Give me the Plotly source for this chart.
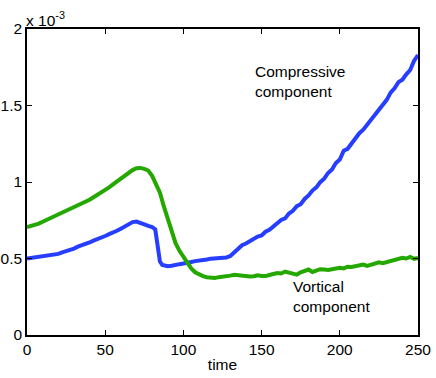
import plotly.graph_objects as go

# ---- data (values in units of 1e-3) ----
t_comp = [0, 2.5, 5, 7.5, 10, 12.5, 15, 17.5, 20, 22.5, 25, 27.5, 30, 32.5, 35, 37.5, 40, 42.5, 45, 47.5,
          50, 52.5, 55, 57.5, 60, 62.5, 65, 67.5, 70, 72.5, 75, 77.5, 80, 82, 83, 84, 85, 86.5, 88, 90,
          92.5, 95, 97.5, 100, 102.5, 105, 107.5, 110, 112.5, 115, 117.5, 120, 122.5, 125, 127.5, 130,
          132.5, 135, 137.5, 140, 142.5, 145, 147.5, 150, 152.5, 155, 157.5, 160, 162.5, 165, 167.5, 170,
          172.5, 175, 177.5, 180, 182.5, 185, 187.5, 190, 192.5, 195, 197.5, 200, 202.5, 205, 207.5, 210,
          212.5, 215, 217.5, 220, 222.5, 225, 227.5, 230, 232.5, 235, 237.5, 240, 242.5, 245, 247.5, 250]
compressive = [0.500, 0.504, 0.506, 0.511, 0.513, 0.517, 0.519, 0.525, 0.530, 0.540, 0.547, 0.558, 0.565,
               0.577, 0.585, 0.597, 0.605, 0.617, 0.625, 0.637, 0.647, 0.659, 0.667, 0.681, 0.695, 0.708,
               0.724, 0.738, 0.741, 0.735, 0.723, 0.713, 0.706, 0.690, 0.620, 0.540, 0.480, 0.458, 0.452,
               0.450, 0.453, 0.455, 0.463, 0.467, 0.475, 0.477, 0.483, 0.485, 0.491, 0.493, 0.499, 0.500,
               0.503, 0.502, 0.507, 0.516, 0.537, 0.558, 0.587, 0.598, 0.614, 0.626, 0.643, 0.650, 0.675,
               0.688, 0.708, 0.725, 0.752, 0.762, 0.794, 0.812, 0.842, 0.855, 0.889, 0.912, 0.944, 0.965,
               0.999, 1.022, 1.059, 1.082, 1.124, 1.147, 1.205, 1.217, 1.254, 1.282, 1.319, 1.342, 1.376,
               1.402, 1.444, 1.475, 1.509, 1.537, 1.584, 1.612, 1.653, 1.669, 1.704, 1.732, 1.792, 1.830]

t_vort = [0, 2.5, 5, 7.5, 10, 12.5, 15, 17.5, 20, 22.5, 25, 27.5, 30, 32.5, 35, 37.5, 40, 42.5, 45, 47.5,
          50, 52.5, 55, 57.5, 60, 62.5, 65, 67.5, 70, 72.5, 75, 77.5, 80, 82.5, 85, 87.5, 90, 92.5, 95,
          97.5, 100, 102.5, 105, 107.5, 110, 112.5, 115, 117.5, 120, 122.5, 125, 127.5, 130, 132.5, 135,
          137.5, 140, 142.5, 145, 147.5, 150, 152.5, 155, 157.5, 160, 162.5, 165, 167.5, 170, 172.5, 175,
          177.5, 180, 182.5, 185, 187.5, 190, 192.5, 195, 197.5, 200, 202.5, 205, 207.5, 210, 212.5, 215,
          217.5, 220, 222.5, 225, 227.5, 230, 232.5, 235, 237.5, 240, 242.5, 245, 247.5, 250]
vortical = [0.706, 0.712, 0.718, 0.728, 0.740, 0.752, 0.762, 0.773, 0.784, 0.796, 0.808, 0.818, 0.830,
            0.842, 0.855, 0.868, 0.884, 0.900, 0.915, 0.930, 0.948, 0.965, 0.985, 1.005, 1.025, 1.042,
            1.060, 1.078, 1.090, 1.092, 1.086, 1.075, 1.040, 0.990, 0.930, 0.840, 0.760, 0.670, 0.600,
            0.550, 0.510, 0.465, 0.435, 0.410, 0.395, 0.385, 0.378, 0.374, 0.372, 0.378, 0.380, 0.382,
            0.388, 0.393, 0.390, 0.385, 0.388, 0.382, 0.384, 0.390, 0.386, 0.385, 0.392, 0.398, 0.405,
            0.402, 0.415, 0.408, 0.398, 0.395, 0.410, 0.420, 0.428, 0.412, 0.422, 0.430, 0.428, 0.425,
            0.430, 0.432, 0.440, 0.435, 0.446, 0.445, 0.452, 0.455, 0.460, 0.452, 0.460, 0.465, 0.475,
            0.470, 0.478, 0.480, 0.490, 0.498, 0.505, 0.500, 0.510, 0.498, 0.504]

x_ticks = [0, 50, 100, 150, 200, 250]
y_ticks = [0, 0.5, 1, 1.5, 2]
y_tick_labels = ["0", "0.5", "1", "1.5", "2"]

scale = 1e-3
FONT = "Liberation Sans, Arial, Helvetica, sans-serif"

fig = go.Figure()
fig.add_trace(go.Scatter(x=t_comp, y=[v * scale for v in compressive], mode="lines",
                         line=dict(color="rgb(38,62,255)", width=4), showlegend=False))
fig.add_trace(go.Scatter(x=t_vort, y=[v * scale for v in vortical], mode="lines",
                         line=dict(color="rgb(36,168,0)", width=4), showlegend=False))

fig.add_annotation(x=144.5, y=1.66e-3, xref="x", yref="y", text="Compressive<br>component",
                   showarrow=False, xanchor="left", yanchor="middle", align="left",
                   font=dict(family=FONT, size=15.5, color="black"))
fig.add_annotation(x=168.5, y=0.25e-3, xref="x", yref="y", text="Vortical<br>component",
                   showarrow=False, xanchor="left", yanchor="middle", align="left",
                   font=dict(family=FONT, size=15.5, color="black"))
fig.add_annotation(x=0, y=1, xref="paper", yref="paper", text="x 10<sup>-3</sup>",
                   showarrow=False, xanchor="left", yanchor="bottom", yshift=-2, xshift=-3,
                   font=dict(family=FONT, size=15.5, color="black"))

axis_common = dict(showline=True, linecolor="black", linewidth=1.5, mirror="ticks", ticks="inside",
                   ticklen=5, tickwidth=1, tickcolor="black", showgrid=False, zeroline=False,
                   automargin=False,
                   tickfont=dict(family=FONT, size=15.5, color="black"))

fig.update_xaxes(range=[0, 250], tickvals=x_ticks, **axis_common,
                 title=dict(text="time", font=dict(family=FONT, size=15.5, color="black"), standoff=2))
fig.update_yaxes(range=[0, 2 * scale], tickvals=[v * scale for v in y_ticks], ticktext=y_tick_labels,
                 **axis_common)

fig.update_layout(width=436, height=378, margin=dict(l=27, r=18, t=29, b=43),
                  plot_bgcolor="white", paper_bgcolor="white",
                  font=dict(family=FONT, size=15.5, color="black"))

# remove the default 8px page margin so the figure fills the window exactly
fig.write_html("out.html", config={"displayModeBar": False},
               post_script="document.body.style.margin='0';")
